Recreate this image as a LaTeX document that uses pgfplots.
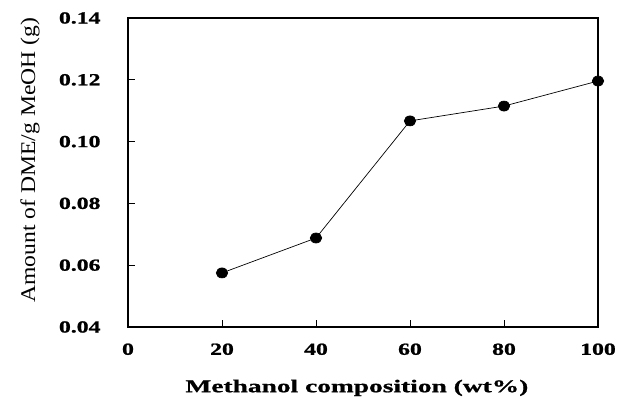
\documentclass[border=0pt]{standalone}
\usepackage{fontspec}
\setmainfont{Liberation Serif}
\newfontfamily\tickfont[FakeStretch=1.4,FakeBold=1.2]{Liberation Serif Bold}
\newfontfamily\xlabfont[FakeStretch=1.53,FakeBold=1.0]{Liberation Serif Bold}
\newfontfamily\ylabfont[FakeStretch=1.13]{Liberation Serif}
\usepackage{pgfplots}
\pgfplotsset{compat=1.18}
\begin{document}
\begin{tikzpicture}
\path[use as bounding box] (-128bp,-74bp) rectangle (499bp,327bp);
\begin{axis}[
  at={(0,0)}, anchor=south west,
  scale only axis, width=470bp, height=309bp,
  xmin=0, xmax=100, ymin=0.04, ymax=0.14,
  xtick={0,20,40,60,80,100},
  ytick={0.04,0.06,0.08,0.10,0.12,0.14},
  yticklabels={0.04,0.06,0.08,0.10,0.12,0.14},
  xticklabels={0,20,40,60,80,100},
  tick align=inside,
  xtick pos=bottom, ytick pos=left,
  major tick length=7bp,
  tick style={line width=1pt, black},
  axis line style={line width=1.3pt},
  ticklabel style={font=\fontsize{17}{18}\tickfont},
  xticklabel style={yshift=-13bp},
  yticklabel style={xshift=-24bp},
  xlabel={Methanol composition (wt\%)},
  xlabel style={font=\fontsize{18}{20}\xlabfont, at={(axis description cs:0.487,-0.197)}, anchor=center},
  ylabel={Amount of DME/g MeOH (g)},
  ylabel style={font=\fontsize{21}{22}\ylabfont, at={(axis description cs:-0.2085,0.54)}, anchor=center},
  clip=false,
]
\addplot[black, line width=0.7pt, mark=*, mark options={fill=black, scale=1, xscale=1.15}, mark size=5bp] coordinates {
 (20,0.0575) (40,0.0688) (60,0.1067) (80,0.1115) (100,0.1196)
};
\end{axis}
\end{tikzpicture}
\end{document}
